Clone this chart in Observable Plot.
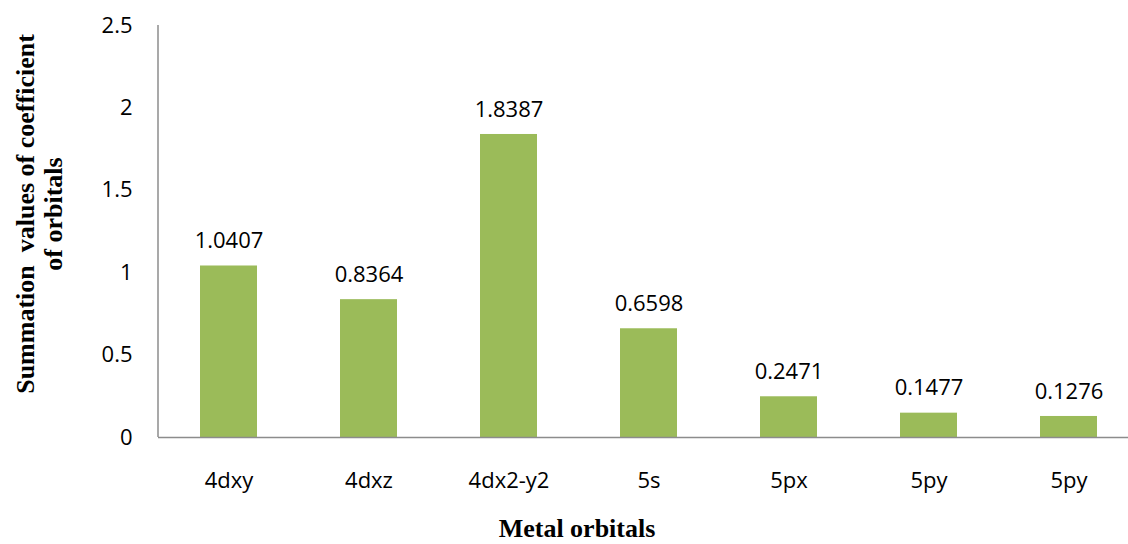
<!DOCTYPE html>
<html>
<head>
<meta charset="utf-8">
<script src="https://cdn.jsdelivr.net/npm/d3@7"></script>
<script src="https://cdn.jsdelivr.net/npm/@observablehq/plot@0.6"></script>
<style>
  html, body { margin: 0; padding: 0; background: #fff; }
  #chart { width: 1128px; height: 544px; overflow: hidden; }
</style>
</head>
<body>
<div id="chart"></div>
<script>
// Metal orbital contributions (summed coefficients)
const orbitals = ["4dxy", "4dxz", "4dx2-y2", "5s", "5px", "5py", "5py"];
const values = [1.0407, 0.8364, 1.8387, 0.6598, 0.2471, 0.1477, 0.1276];
const yTicks = [0, 0.5, 1, 1.5, 2, 2.5];

// The same label appears twice, so bars are keyed by position
const rows = orbitals.map((name, i) => ({key: i, name, value: values[i]}));

const font = "'Open Sans', sans-serif";
const serif = "'Liberation Serif', 'Times New Roman', serif";
const axisGray = "#8c8c8c";

const chart = Plot.plot({
  width: 1128,
  height: 544,
  marginLeft: 158,
  marginRight: -10,
  marginTop: 25,
  marginBottom: 107,
  style: {fontFamily: font, fontSize: "22px", color: "#000", background: "#fff", overflow: "visible"},
  x: {
    type: "band",
    domain: rows.map(d => d.key),
    paddingInner: 0.593,
    paddingOuter: 0.2965,
    align: 0.5,
    label: null
  },
  y: {
    domain: [0, 2.5],
    label: null
  },
  marks: [
    Plot.barY(rows, {x: "key", y: "value", fill: "#9BBB59"}),
    Plot.text(rows, {
      x: "key",
      y: "value",
      text: d => d.value.toFixed(4),
      dy: -25,
      fontSize: 22,
      fill: "#000"
    }),
    Plot.axisY(yTicks, {
      tickSize: 0,
      tickPadding: 26,
      fontSize: 22,
      tickFormat: d => String(d),
      label: null
    }),
    Plot.axisX({
      tickSize: 0,
      tickPadding: 35,
      fontSize: 22,
      tickFormat: i => orbitals[i],
      label: null
    }),
    Plot.ruleY([0], {stroke: axisGray, strokeWidth: 1.5})
  ]
});

const svg = d3.select(chart);

// Vertical axis line along the left edge of the plotting area
const xs = chart.scale("x").range;
const ys = chart.scale("y").range;
svg.append("line")
  .attr("x1", xs[0]).attr("x2", xs[0])
  .attr("y1", ys[0]).attr("y2", ys[1])
  .attr("stroke", axisGray)
  .attr("stroke-width", 1.5);

// Axis titles in bold serif
svg.append("text")
  .attr("x", 577)
  .attr("y", 537)
  .attr("text-anchor", "middle")
  .attr("font-family", serif)
  .attr("font-weight", "bold")
  .attr("font-size", 26)
  .text("Metal orbitals");

const yTitle = svg.append("text")
  .attr("transform", "translate(0,214) rotate(-90)")
  .attr("text-anchor", "middle")
  .attr("font-family", serif)
  .attr("font-weight", "bold")
  .attr("font-size", 26);
yTitle.append("tspan").attr("x", 0).attr("y", 34).text("Summation  values of coefficient");
yTitle.append("tspan").attr("x", 0).attr("y", 62).text("of orbitals");

document.getElementById("chart").appendChild(chart);
</script>
</body>
</html>
